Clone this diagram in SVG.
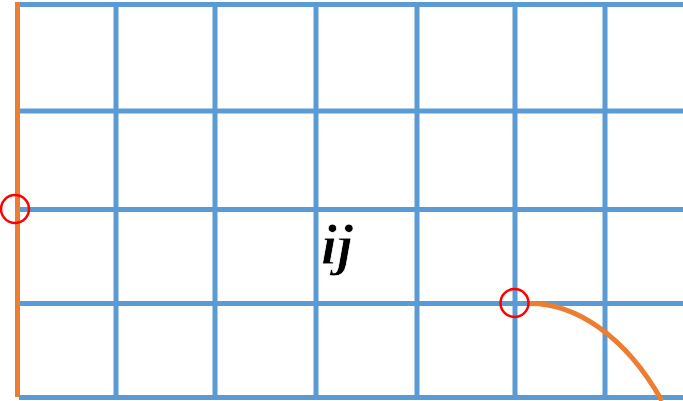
<svg xmlns="http://www.w3.org/2000/svg" width="683" height="401" viewBox="0 0 683 401">
<style>
.g{stroke:#5B9BD5;stroke-width:5;fill:none}
.o{stroke:#ED7D31;stroke-width:5;fill:none}
.c{stroke:#FF0000;stroke-width:2.5;fill:none}
.t{font-family:"Liberation Serif","Times New Roman",serif;font-style:italic;font-weight:bold;font-size:58px;fill:#000;stroke:#fff;stroke-width:0.8;paint-order:normal}
</style>
<rect width="683" height="401" fill="#fff"/>
<g id="grid">
<line class="g" x1="116" y1="2" x2="116" y2="400"/>
<line class="g" x1="215" y1="2" x2="215" y2="400"/>
<line class="g" x1="316" y1="2" x2="316" y2="400"/>
<line class="g" x1="417" y1="2" x2="417" y2="400"/>
<line class="g" x1="515" y1="2" x2="515" y2="400"/>
<line class="g" x1="605" y1="2" x2="605" y2="400"/>
<line class="g" x1="19" y1="4.5" x2="683" y2="4.5"/>
<line class="g" x1="19" y1="111" x2="683" y2="111"/>
<line class="g" x1="19" y1="209.5" x2="683" y2="209.5"/>
<line class="g" x1="19" y1="303.5" x2="683" y2="303.5"/>
<line class="g" x1="19" y1="397.5" x2="683" y2="397.5"/>
</g>
<g id="boundary">
<line class="o" x1="17.5" y1="2" x2="17.5" y2="397"/>
<path class="o" d="M530,303.5 C575,303.5 625,335 662,401"/>
</g>
<g id="markers">
<circle class="c" cx="15" cy="209" r="14"/>
<circle class="c" cx="514.5" cy="303" r="14"/>
</g>
<g id="label">
<text class="t" x="321" y="264" textLength="32" lengthAdjust="spacingAndGlyphs">ij</text>
</g>
</svg>
